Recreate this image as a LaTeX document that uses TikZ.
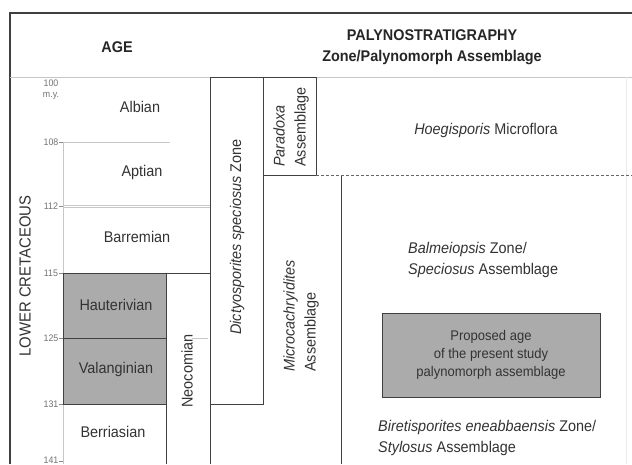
\documentclass[tikz,border=0pt]{standalone}
\usepackage{fontspec}
\setmainfont{Liberation Sans}[FakeStretch=0.93]
\usepackage{tikz}

\begin{document}
\begin{tikzpicture}[
		x=1pt, y=-1pt,
		every node/.style={inner sep=0pt, text=black!80, font=\fontsize{15.5}{21}\selectfont},
		head/.style={font=\fontsize{15.5}{21}\selectfont\bfseries, text=black!85},
		tick/.style={font=\fontsize{9.5}{11}\selectfont, text=black!55, align=center},
		upright/.style={rotate=90, align=left},
		frame/.style={draw=black!75, line width=1pt},
		faint/.style={draw=black!22, line width=0.7pt},
		shade/.style={fill=black!33}
	]
  \useasboundingbox (0,0) rectangle (632,464);
  \fill[white] (0,0) rectangle (632,464);

  % outer frame and header
  \draw[frame, line width=1.3pt] (10,464) -- (10,13) -- (632,13);
  \draw[faint] (10,77) -- (632,77);
  \draw[faint, draw=black!8] (626,77) -- (626,464);
  \node (age) [head] at (117,47) {AGE};
  \node (palyno) [head, align=center] at (432,47) {PALYNOSTRATIGRAPHY\\Zone/Palynomorph Assemblage};

  % stage column
  \draw[faint] (63,142) -- (170,142);
  \draw[faint] (63,205) -- (210,205);
  \draw[faint] (63,207.5) -- (210,207.5);
  \draw[faint] (63,142) -- (63,273);
  \draw[faint] (63,404) -- (63,464);
  \draw[frame, shade] (63,273) rectangle (166,338);
  \draw[frame, shade] (63,338) rectangle (166,404);
  \draw[frame] (166,464) -- (166,273) -- (210,273);
  \draw[faint] (192,338) -- (208,338);

  % ticks
  \foreach \y in {142,206,273,338,404,461}
    \draw[faint, draw=black!45] (59,\y) -- (63,\y);
  \node (t100) [tick] at (51,90) {100\\m.y.};
  \node (t108) [tick] at (51,142) {108};
  \node (t112) [tick] at (51,206) {112};
  \node (t115) [tick] at (51,273) {115};
  \node (t125) [tick] at (51,338) {125};
  \node (t131) [tick] at (51,404) {131};
  \node (t141) [tick] at (51,460) {141};

  \node (cretaceous) [rotate=90, font=\fontsize{16}{20}\selectfont] at (25,276) {LOWER CRETACEOUS};
  \node (albian) at (140,107) {Albian};
  \node (aptian) at (142,172) {Aptian};
  \node (barremian) at (137,237) {Barremian};
  \node (hauterivian) at (116,305) {Hauterivian};
  \node (valanginian) at (116,369) {Valanginian};
  \node (berriasian) at (113,432) {Berriasian};
  \node (neocomian) [rotate=90] at (187,371) {Neocomian};

  % zone columns
  \draw[frame] (210,464) -- (210,77) -- (316,77) -- (316,175);
  \draw[frame] (263,77) -- (263,404) -- (210,404);
  \draw[frame] (263,175) -- (316,175);
  \draw[frame] (341,175) -- (341,464);
  \draw[draw=black!60, line width=0.9pt, dash pattern=on 3pt off 2pt] (316,175) -- (632,175);
  \node (dictyo) [rotate=90] at (237,237) {\textit{Dictyosporites speciosus} Zone};
  \node (paradoxa) [upright, anchor=west] at (291,167) {\textit{Paradoxa}\\Assemblage};
  \node (microcach) [upright, anchor=west] at (301,372) {\textit{Microcachryidites}\\Assemblage};

  % right column
  \node (hoegisporis) at (486,130) {\textit{Hoegisporis} Microflora};
  \node (balmeiopsis) [anchor=west, align=left] at (408,260) {\textit{Balmeiopsis} Zone/\\\textit{Speciosus} Assemblage};
  \node (proposed) [frame, shade, minimum width=218pt, minimum height=84pt, align=center,
    font=\fontsize{14}{18}\selectfont] at (491,355) {Proposed age\\of the present study\\palynomorph assemblage};
  \node (biretisporites) [anchor=west, align=left] at (378,438) {\textit{Biretisporites eneabbaensis} Zone/\\\textit{Stylosus} Assemblage};
\end{tikzpicture}
\end{document}
